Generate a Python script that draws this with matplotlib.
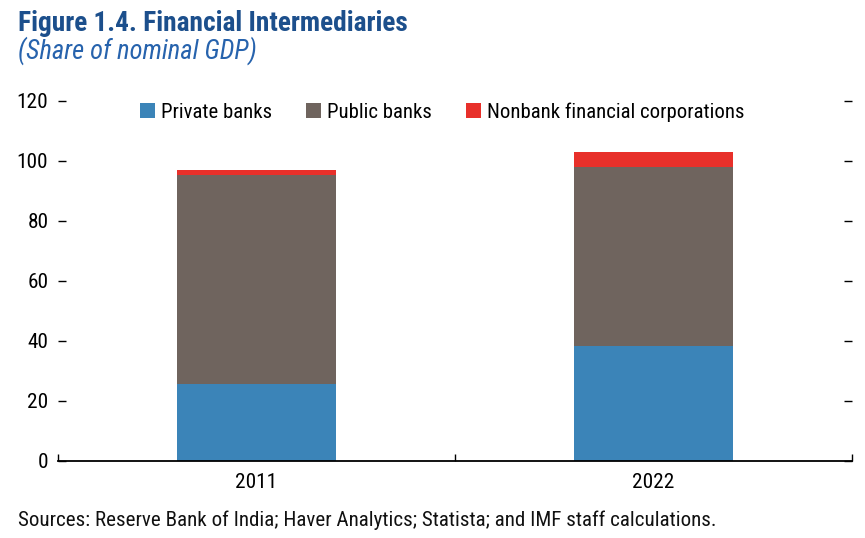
import matplotlib
matplotlib.use("Agg")
import matplotlib.pyplot as plt
from matplotlib import font_manager as fm

years = ["2011", "2022"]
private_banks = [25.7, 38.3]
public_banks = [69.6, 59.7]
nonbank = [1.7, 5.0]
series_names = ["Private banks", "Public banks", "Nonbank financial corporations"]
yticks = [0, 20, 40, 60, 80, 100, 120]
title = "Figure 1.4. Financial Intermediaries"
subtitle = "(Share of nominal GDP)"
source = "Sources: Reserve Bank of India; Haver Analytics; Statista; and IMF staff calculations."

names = {f.name for f in fm.fontManager.ttflist}
font = "DejaVu Sans"
for cand in ["Roboto Condensed", "Archivo Narrow", "PT Sans Narrow", "Fira Sans Condensed", "Liberation Sans"]:
    if cand in names:
        font = cand
        break
plt.rcParams["font.family"] = [font, "DejaVu Sans"]

colors = ["#3b84b8", "#6f645e", "#e8302a"]

fig = plt.figure(figsize=(8.65, 5.38), dpi=100)
renderer = fig.canvas.get_renderer()


def fit_size(text, target_px, **kw):
    t = fig.text(0, 0, text, fontsize=10, **kw)
    w = t.get_window_extent(renderer).width
    t.remove()
    return 10 * target_px / w


ax = fig.add_axes([58/865, 1 - 461/538, 794/865, 360/538])

x = list(range(len(years)))
bottom = [0.0] * len(years)
for vals, c, n in zip([private_banks, public_banks, nonbank], colors, series_names):
    ax.bar(x, vals, width=0.4, bottom=bottom, color=c, label=n, linewidth=0)
    bottom = [b + v for b, v in zip(bottom, vals)]

ax.set_xlim(-0.5, 1.5)
ax.set_ylim(0, 120)
for s in ["top", "left", "right"]:
    ax.spines[s].set_visible(False)
ax.spines["bottom"].set_linewidth(1.3)

tick_fs = fit_size("120", 31)
ax.set_yticks(yticks)
ax.set_yticklabels([str(v) for v in yticks])
ax.tick_params(axis="y", which="major", direction="in", length=6, width=1,
               left=True, right=True, labelleft=True, labelsize=tick_fs, pad=7)
ax.set_xticks(x)
ax.set_xticklabels(years)
ax.tick_params(axis="x", which="major", length=0, labelsize=tick_fs, pad=9)
ax.set_xticks([-0.5, 0.5, 1.5], minor=True)
ax.tick_params(axis="x", which="minor", direction="in", length=5, width=1)

leg_fs = fit_size(series_names[2], 256)
em = leg_fs * 100 / 72
leg = ax.legend(loc="center", bbox_to_anchor=(0.484, 0.969), ncol=3, frameon=False,
                fontsize=leg_fs, handlelength=15/em, handleheight=15/em, columnspacing=34/em,
                handletextpad=6/em, borderpad=0, borderaxespad=0)

fig.text(18/865, 1 - 31/538, title, fontsize=fit_size(title, 392, fontweight="bold"),
         fontweight="bold", color="#1c4f8c", ha="left", va="baseline")
fig.text(18/865, 1 - 59/538, subtitle, fontsize=fit_size(subtitle, 239, style="italic"),
         style="italic", color="#2763ad", ha="left", va="baseline")
fig.text(18/865, 1 - 526/538, source, fontsize=fit_size(source, 694),
         color="#111111", ha="left", va="baseline")

fig.savefig("out.png", dpi=100)
